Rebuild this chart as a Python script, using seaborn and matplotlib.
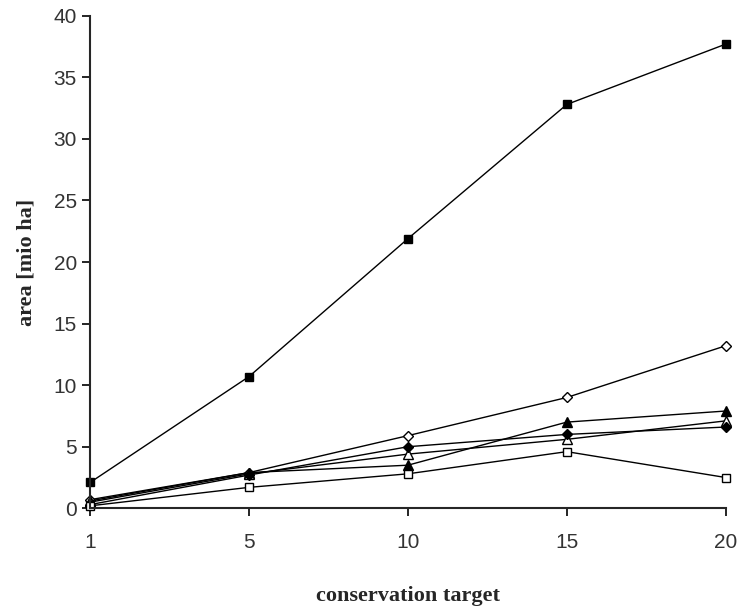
import matplotlib
matplotlib.use("Agg")
import matplotlib.pyplot as plt
import seaborn as sns
import pandas as pd

targets = ["1", "5", "10", "15", "20"]

filled_square = [2.1, 10.7, 21.9, 32.8, 37.7]
open_diamond = [0.7, 2.9, 5.9, 9.0, 13.2]
filled_triangle = [0.6, 2.9, 3.5, 7.0, 7.9]
open_triangle = [0.5, 2.8, 4.4, 5.6, 7.1]
filled_diamond = [0.3, 2.7, 5.0, 6.0, 6.6]
open_square = [0.2, 1.7, 2.8, 4.6, 2.5]

series = [
    ("filled square", filled_square, "s", "black"),
    ("open diamond", open_diamond, "D", "white"),
    ("filled triangle", filled_triangle, "^", "black"),
    ("open triangle", open_triangle, "^", "white"),
    ("filled diamond", filled_diamond, "D", "black"),
    ("open square", open_square, "s", "white"),
]

sns.set_style("ticks")
fig = plt.figure(figsize=(7.39, 6.08), dpi=100)
ax = fig.add_axes([0.122, 0.164, 0.86, 0.81])

for name, vals, mk, fc in series:
    df = pd.DataFrame({"pos": range(len(targets)), "area": vals})
    size = 5.5 if mk == "s" else (5.0 if mk == "D" else 6.5)
    sns.lineplot(data=df, x="pos", y="area", ax=ax, color="black", linewidth=1.0,
                 marker=mk, markersize=size, markerfacecolor=fc,
                 markeredgecolor="black", markeredgewidth=1.0, clip_on=False)

ax.set_xlim(0, len(targets) - 1)
ax.set_ylim(0, 40)
ax.set_xticks(range(len(targets)))
ax.set_xticklabels(targets)
ax.set_yticks(range(0, 41, 5))
ax.tick_params(axis="both", labelsize=15, colors="black", labelcolor="#333333",
               direction="out", length=6, width=1.2)
ax.tick_params(axis="x", pad=12)
for lab in ax.get_xticklabels() + ax.get_yticklabels():
    lab.set_family("Liberation Sans")

sns.despine(ax=ax)
ax.spines["left"].set_linewidth(1.5)
ax.spines["bottom"].set_linewidth(1.5)

ax.set_xlabel("conservation target", fontsize=16, fontweight="bold",
              family="Liberation Serif", labelpad=24)
ax.set_ylabel("area [mio ha]", fontsize=16, fontweight="bold",
              family="Liberation Serif", labelpad=12)

fig.savefig("out.png", dpi=100)
